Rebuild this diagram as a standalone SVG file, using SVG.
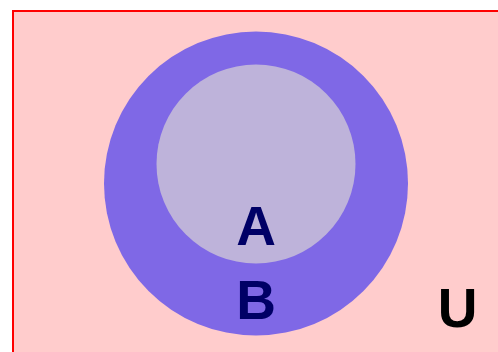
<svg xmlns="http://www.w3.org/2000/svg" width="498" height="352" viewBox="0 0 498 352">
<style>
.lbl{font-family:"Liberation Sans",Arial,sans-serif;font-weight:bold;font-size:55px;text-anchor:middle}
</style>
<rect x="0" y="0" width="498" height="352" fill="#ffffff"/>
<g id="U">
<rect x="13" y="11" width="500" height="360" fill="#ffcccc" stroke="#ff0000" stroke-width="2"/>
<text class="lbl" x="457.5" y="327" fill="#000000">U</text>
</g>
<g id="B">
<circle cx="256" cy="183.5" r="152" fill="#7f68e6"/>
<text class="lbl" x="256" y="319" fill="#000066">B</text>
</g>
<g id="A">
<circle cx="256" cy="164" r="99.5" fill="#beb3da"/>
<text class="lbl" x="256" y="245" fill="#000066">A</text>
</g>
<g id="connectors"/>
</svg>
